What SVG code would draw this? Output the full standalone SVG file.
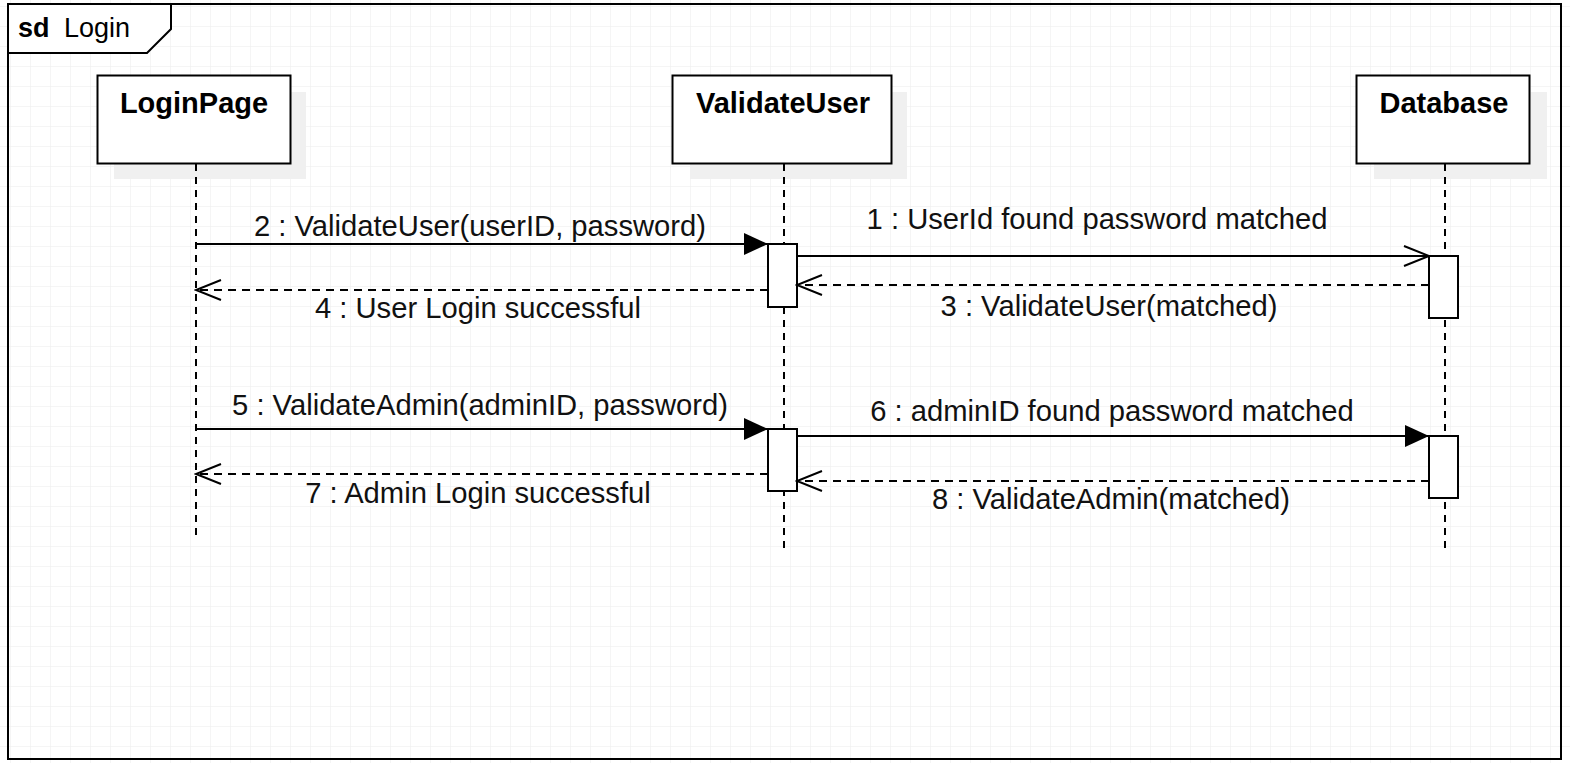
<svg xmlns="http://www.w3.org/2000/svg" width="1570" height="763" viewBox="0 0 1570 763">
<defs>
<pattern id="grid" x="10" y="6" width="20" height="20" patternUnits="userSpaceOnUse">
<path d="M0,0 H20 M0,0 V20" fill="none" stroke="#ececec" stroke-width="1"/>
</pattern>
<marker id="filled" viewBox="0 0 24 22" refX="24" refY="11" markerWidth="24" markerHeight="22" markerUnits="userSpaceOnUse" orient="auto">
<path d="M0,0 L24,11 L0,22 Z" fill="#000"/>
</marker>
<marker id="open" viewBox="0 0 28 24" refX="26" refY="12" markerWidth="28" markerHeight="24" markerUnits="userSpaceOnUse" orient="auto">
<path d="M1,2 L26,12 L1,22" fill="none" stroke="#000" stroke-width="2"/>
</marker>
</defs>
<style>
.box{fill:#fff;stroke:#000;stroke-width:2}
.shadow{fill:#f0f0f0;stroke:none}
.life{stroke:#000;stroke-width:2;stroke-dasharray:7 6;fill:none}
.act{fill:#fff;stroke:#000;stroke-width:2}
.head{font-family:"Liberation Sans",Arial,sans-serif;font-weight:bold;font-size:29px;text-anchor:middle;fill:#000}
.lbl{font-family:"Liberation Sans",Arial,sans-serif;font-size:29.2px;text-anchor:middle;fill:#111}
.sync{stroke:#000;stroke-width:2;fill:none}
.ret{stroke:#000;stroke-width:2;stroke-dasharray:8 6;fill:none}
</style>
<rect x="0" y="0" width="1570" height="763" fill="#fff"/>
<rect x="0" y="0" width="1570" height="763" fill="url(#grid)"/>

<g id="frame">
<rect x="8" y="4" width="1553" height="755" fill="none" stroke="#000" stroke-width="2"/>
<path d="M8,4 H171 V29 L147,53 H8 Z" fill="#fff" stroke="#000" stroke-width="2"/>
<text x="18" y="37" font-family="Liberation Sans,Arial,sans-serif" font-size="27px" font-weight="bold" fill="#000">sd</text>
<text x="64" y="37" font-family="Liberation Sans,Arial,sans-serif" font-size="27px" fill="#000">Login</text>
</g>

<g id="loginpage">
<rect class="shadow" x="114" y="92" width="192" height="87"/>
<line class="life" x1="196" y1="164" x2="196" y2="538"/>
<rect class="box" x="97.5" y="75.5" width="193" height="88"/>
<text class="head" x="194" y="113">LoginPage</text>
</g>

<g id="validateuser">
<rect class="shadow" x="690" y="92" width="217" height="87"/>
<line class="life" x1="784" y1="164" x2="784" y2="551"/>
<rect class="box" x="672.5" y="75.5" width="219" height="88"/>
<text class="head" x="783" y="113">ValidateUser</text>
<rect class="act" x="768" y="244" width="29" height="63" id="vu-act1"/>
<rect class="act" x="768" y="429" width="29" height="62" id="vu-act2"/>
</g>

<g id="database">
<rect class="shadow" x="1374" y="92" width="173" height="87"/>
<line class="life" x1="1445" y1="164" x2="1445" y2="551"/>
<rect class="box" x="1356.5" y="75.5" width="173" height="88"/>
<text class="head" x="1444" y="113">Database</text>
<rect class="act" x="1429" y="256" width="29" height="62" id="db-act1"/>
<rect class="act" x="1429" y="436" width="29" height="62" id="db-act2"/>
</g>

<g id="connectors">
<line class="sync" x1="196" y1="244" x2="768" y2="244" marker-end="url(#filled)"/>
<text class="lbl" x="480" y="236">2 : ValidateUser(userID, password)</text>

<line class="sync" x1="797" y1="256" x2="1429" y2="256" marker-end="url(#open)"/>
<text class="lbl" x="1097" y="229">1 : UserId found password matched</text>

<line class="ret" x1="1429" y1="285" x2="797" y2="285" marker-end="url(#open)"/>
<text class="lbl" x="1109" y="316">3 : ValidateUser(matched)</text>

<line class="ret" x1="768" y1="290" x2="196" y2="290" marker-end="url(#open)"/>
<text class="lbl" x="478" y="318">4 : User Login successful</text>

<line class="sync" x1="196" y1="429" x2="768" y2="429" marker-end="url(#filled)"/>
<text class="lbl" x="480" y="415">5 : ValidateAdmin(adminID, password)</text>

<line class="sync" x1="797" y1="436" x2="1429" y2="436" marker-end="url(#filled)"/>
<text class="lbl" x="1112" y="421">6 : adminID found password matched</text>

<line class="ret" x1="768" y1="474" x2="196" y2="474" marker-end="url(#open)"/>
<text class="lbl" x="478" y="503">7 : Admin Login successful</text>

<line class="ret" x1="1429" y1="481" x2="797" y2="481" marker-end="url(#open)"/>
<text class="lbl" x="1111" y="509">8 : ValidateAdmin(matched)</text>
</g>
</svg>
